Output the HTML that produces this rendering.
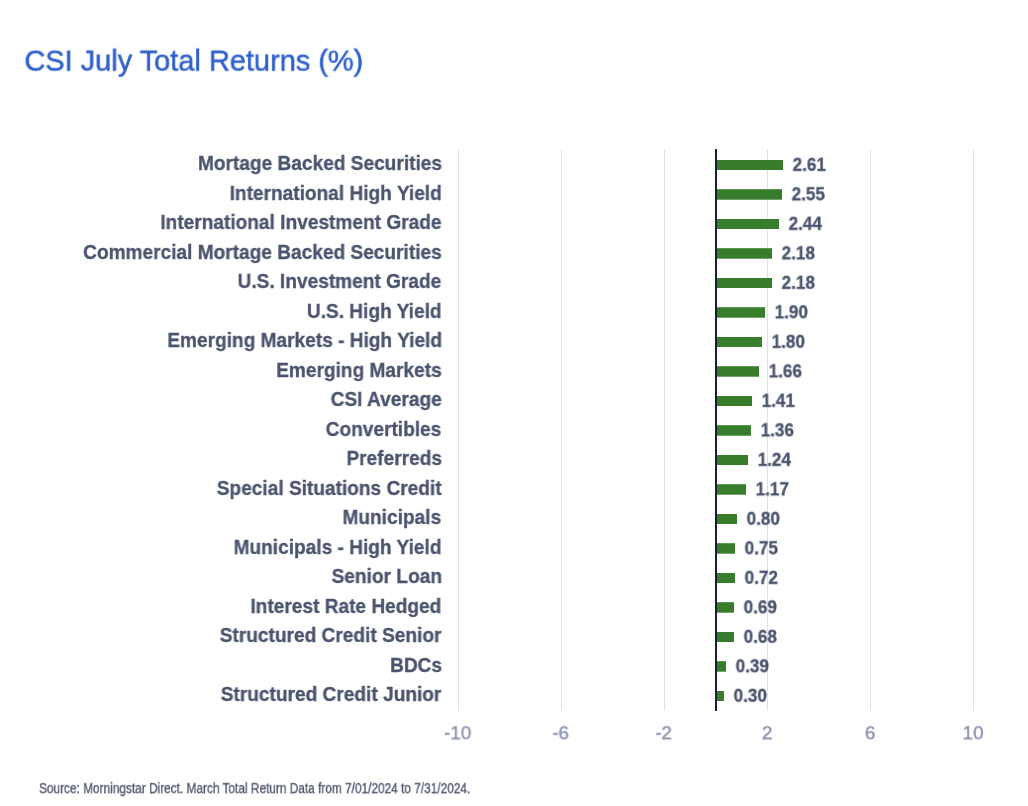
<!DOCTYPE html>
<html lang="en"><head><meta charset="utf-8"><title>CSI July Total Returns (%)</title>
<style>
html,body{margin:0;padding:0;background:#fff;}
body{width:1028px;height:806px;position:relative;overflow:hidden;font-family:"Liberation Sans",Arial,Helvetica,sans-serif;}
.t{position:absolute;white-space:nowrap;line-height:1;will-change:transform;}
.title{color:#2f60cb;-webkit-text-stroke:0.5px #2f60cb;transform-origin:0 0;}
.lab{color:#4a546e;font-weight:bold;text-align:right;-webkit-text-stroke:0.3px #4a546e;transform-origin:100% 0;}
.val{color:#4a546e;font-weight:bold;-webkit-text-stroke:0.3px #4a546e;transform-origin:0 0;}
.tick{color:#8891ad;text-align:center;-webkit-text-stroke:0.4px #8891ad;transform-origin:50% 0;}
.foot{color:#4d5368;-webkit-text-stroke:0.3px #4d5368;transform-origin:0 0;}
svg{position:absolute;left:0;top:0;}
</style></head><body>
<div class="t title" style="font-size:30.2px;top:45px;left:24px;transform:translate(0.40px,0.64px) scaleX(0.959);">CSI July Total Returns (%)</div>
<svg width="1028" height="806" viewBox="0 0 1028 806">
<rect x="458" y="150" width="1" height="560.7" fill="#dfe1e8"/>
<rect x="561" y="150" width="1" height="560.7" fill="#dfe1e8"/>
<rect x="664" y="150" width="1" height="560.7" fill="#dfe1e8"/>
<rect x="767" y="150" width="1" height="560.7" fill="#dfe1e8"/>
<rect x="870" y="150" width="1" height="560.7" fill="#dfe1e8"/>
<rect x="973" y="150" width="1" height="560.7" fill="#dfe1e8"/>
<rect x="716" y="160.0" width="67" height="10" fill="#377d2b"/>
<rect x="716" y="189.2" width="66" height="10.5" fill="#377d2b"/>
<rect x="716" y="219.0" width="63" height="10" fill="#377d2b"/>
<rect x="716" y="248.2" width="56" height="10.5" fill="#377d2b"/>
<rect x="716" y="278.0" width="56" height="10" fill="#377d2b"/>
<rect x="716" y="307.2" width="49" height="10.5" fill="#377d2b"/>
<rect x="716" y="337.0" width="46" height="10" fill="#377d2b"/>
<rect x="716" y="366.2" width="43" height="10.5" fill="#377d2b"/>
<rect x="716" y="396.0" width="36" height="10" fill="#377d2b"/>
<rect x="716" y="425.2" width="35" height="10.5" fill="#377d2b"/>
<rect x="716" y="455.0" width="32" height="10" fill="#377d2b"/>
<rect x="716" y="484.2" width="30" height="10.5" fill="#377d2b"/>
<rect x="716" y="514.0" width="21" height="10" fill="#377d2b"/>
<rect x="716" y="543.2" width="19" height="10.5" fill="#377d2b"/>
<rect x="716" y="573.0" width="19" height="10" fill="#377d2b"/>
<rect x="716" y="602.2" width="18" height="10.5" fill="#377d2b"/>
<rect x="716" y="632.0" width="18" height="10" fill="#377d2b"/>
<rect x="716" y="661.2" width="10" height="10.5" fill="#377d2b"/>
<rect x="716" y="691.0" width="8" height="10" fill="#377d2b"/>
<rect x="715" y="149" width="2" height="562.0" fill="#1a1d38"/>
</svg>
<div class="t lab" style="font-size:19.3px;top:153px;right:587px;transform:translate(0.50px,0.96px) scaleX(0.99);">Mortage Backed Securities</div>
<div class="t val" style="font-size:17.5px;top:156px;left:792px;transform:translate(0.60px,0.79px) scaleX(0.982);">2.61</div>
<div class="t lab" style="font-size:19.3px;top:183px;right:587px;transform:translate(0.50px,0.96px) scaleX(0.99);">International High Yield</div>
<div class="t val" style="font-size:17.5px;top:186px;left:791px;transform:translate(0.60px,0.29px) scaleX(0.982);">2.55</div>
<div class="t lab" style="font-size:19.3px;top:212px;right:587px;transform:translate(0.50px,0.96px) scaleX(0.99);">International Investment Grade</div>
<div class="t val" style="font-size:17.5px;top:215px;left:788px;transform:translate(0.60px,0.79px) scaleX(0.982);">2.44</div>
<div class="t lab" style="font-size:19.3px;top:242px;right:587px;transform:translate(0.50px,0.96px) scaleX(0.99);">Commercial Mortage Backed Securities</div>
<div class="t val" style="font-size:17.5px;top:245px;left:781px;transform:translate(0.60px,0.29px) scaleX(0.982);">2.18</div>
<div class="t lab" style="font-size:19.3px;top:271px;right:587px;transform:translate(0.50px,0.96px) scaleX(0.99);">U.S. Investment Grade</div>
<div class="t val" style="font-size:17.5px;top:274px;left:781px;transform:translate(0.60px,0.79px) scaleX(0.982);">2.18</div>
<div class="t lab" style="font-size:19.3px;top:301px;right:587px;transform:translate(0.50px,0.96px) scaleX(0.99);">U.S. High Yield</div>
<div class="t val" style="font-size:17.5px;top:304px;left:774px;transform:translate(0.60px,0.29px) scaleX(0.982);">1.90</div>
<div class="t lab" style="font-size:19.3px;top:330px;right:587px;transform:translate(0.50px,0.96px) scaleX(0.99);">Emerging Markets - High Yield</div>
<div class="t val" style="font-size:17.5px;top:333px;left:771px;transform:translate(0.60px,0.79px) scaleX(0.982);">1.80</div>
<div class="t lab" style="font-size:19.3px;top:360px;right:587px;transform:translate(0.50px,0.96px) scaleX(0.99);">Emerging Markets</div>
<div class="t val" style="font-size:17.5px;top:363px;left:768px;transform:translate(0.60px,0.29px) scaleX(0.982);">1.66</div>
<div class="t lab" style="font-size:19.3px;top:389px;right:587px;transform:translate(0.50px,0.96px) scaleX(0.99);">CSI Average</div>
<div class="t val" style="font-size:17.5px;top:392px;left:761px;transform:translate(0.60px,0.79px) scaleX(0.982);">1.41</div>
<div class="t lab" style="font-size:19.3px;top:419px;right:587px;transform:translate(0.50px,0.96px) scaleX(0.99);">Convertibles</div>
<div class="t val" style="font-size:17.5px;top:422px;left:760px;transform:translate(0.60px,0.29px) scaleX(0.982);">1.36</div>
<div class="t lab" style="font-size:19.3px;top:448px;right:587px;transform:translate(0.50px,0.96px) scaleX(0.99);">Preferreds</div>
<div class="t val" style="font-size:17.5px;top:451px;left:757px;transform:translate(0.60px,0.79px) scaleX(0.982);">1.24</div>
<div class="t lab" style="font-size:19.3px;top:478px;right:587px;transform:translate(0.50px,0.96px) scaleX(0.99);">Special Situations Credit</div>
<div class="t val" style="font-size:17.5px;top:481px;left:755px;transform:translate(0.60px,0.29px) scaleX(0.982);">1.17</div>
<div class="t lab" style="font-size:19.3px;top:507px;right:587px;transform:translate(0.50px,0.96px) scaleX(0.99);">Municipals</div>
<div class="t val" style="font-size:17.5px;top:510px;left:746px;transform:translate(0.60px,0.79px) scaleX(0.982);">0.80</div>
<div class="t lab" style="font-size:19.3px;top:537px;right:587px;transform:translate(0.50px,0.96px) scaleX(0.99);">Municipals - High Yield</div>
<div class="t val" style="font-size:17.5px;top:540px;left:744px;transform:translate(0.60px,0.29px) scaleX(0.982);">0.75</div>
<div class="t lab" style="font-size:19.3px;top:566px;right:587px;transform:translate(0.50px,0.96px) scaleX(0.99);">Senior Loan</div>
<div class="t val" style="font-size:17.5px;top:569px;left:744px;transform:translate(0.60px,0.79px) scaleX(0.982);">0.72</div>
<div class="t lab" style="font-size:19.3px;top:596px;right:587px;transform:translate(0.50px,0.96px) scaleX(0.99);">Interest Rate Hedged</div>
<div class="t val" style="font-size:17.5px;top:599px;left:743px;transform:translate(0.60px,0.29px) scaleX(0.982);">0.69</div>
<div class="t lab" style="font-size:19.3px;top:625px;right:587px;transform:translate(0.50px,0.96px) scaleX(0.99);">Structured Credit Senior</div>
<div class="t val" style="font-size:17.5px;top:628px;left:743px;transform:translate(0.60px,0.79px) scaleX(0.982);">0.68</div>
<div class="t lab" style="font-size:19.3px;top:655px;right:587px;transform:translate(0.50px,0.96px) scaleX(0.99);">BDCs</div>
<div class="t val" style="font-size:17.5px;top:658px;left:735px;transform:translate(0.60px,0.29px) scaleX(0.982);">0.39</div>
<div class="t lab" style="font-size:19.3px;top:684px;right:587px;transform:translate(0.50px,0.96px) scaleX(0.99);">Structured Credit Junior</div>
<div class="t val" style="font-size:17.5px;top:687px;left:733px;transform:translate(0.60px,0.79px) scaleX(0.982);">0.30</div>
<div class="t tick" style="font-size:19.2px;top:723px;left:357px;width:200px;transform:translate(0.60px,0.25px) scaleX(0.98);">-10</div>
<div class="t tick" style="font-size:19.2px;top:723px;left:460px;width:200px;transform:translate(0.60px,0.25px) scaleX(0.98);">-6</div>
<div class="t tick" style="font-size:19.2px;top:723px;left:563px;width:200px;transform:translate(0.60px,0.25px) scaleX(0.98);">-2</div>
<div class="t tick" style="font-size:19.2px;top:723px;left:667px;width:200px;transform:translate(0.10px,0.25px) scaleX(0.98);">2</div>
<div class="t tick" style="font-size:19.2px;top:723px;left:770px;width:200px;transform:translate(0.10px,0.25px) scaleX(0.98);">6</div>
<div class="t tick" style="font-size:19.2px;top:723px;left:873px;width:200px;transform:translate(0.10px,0.25px) scaleX(0.98);">10</div>
<div class="t foot" style="font-size:14px;top:781px;left:39px;transform:translate(0.00px,0.15px) scaleX(0.8465);">Source: Morningstar Direct. March Total Return Data from 7/01/2024 to 7/31/2024.</div>
</body></html>
